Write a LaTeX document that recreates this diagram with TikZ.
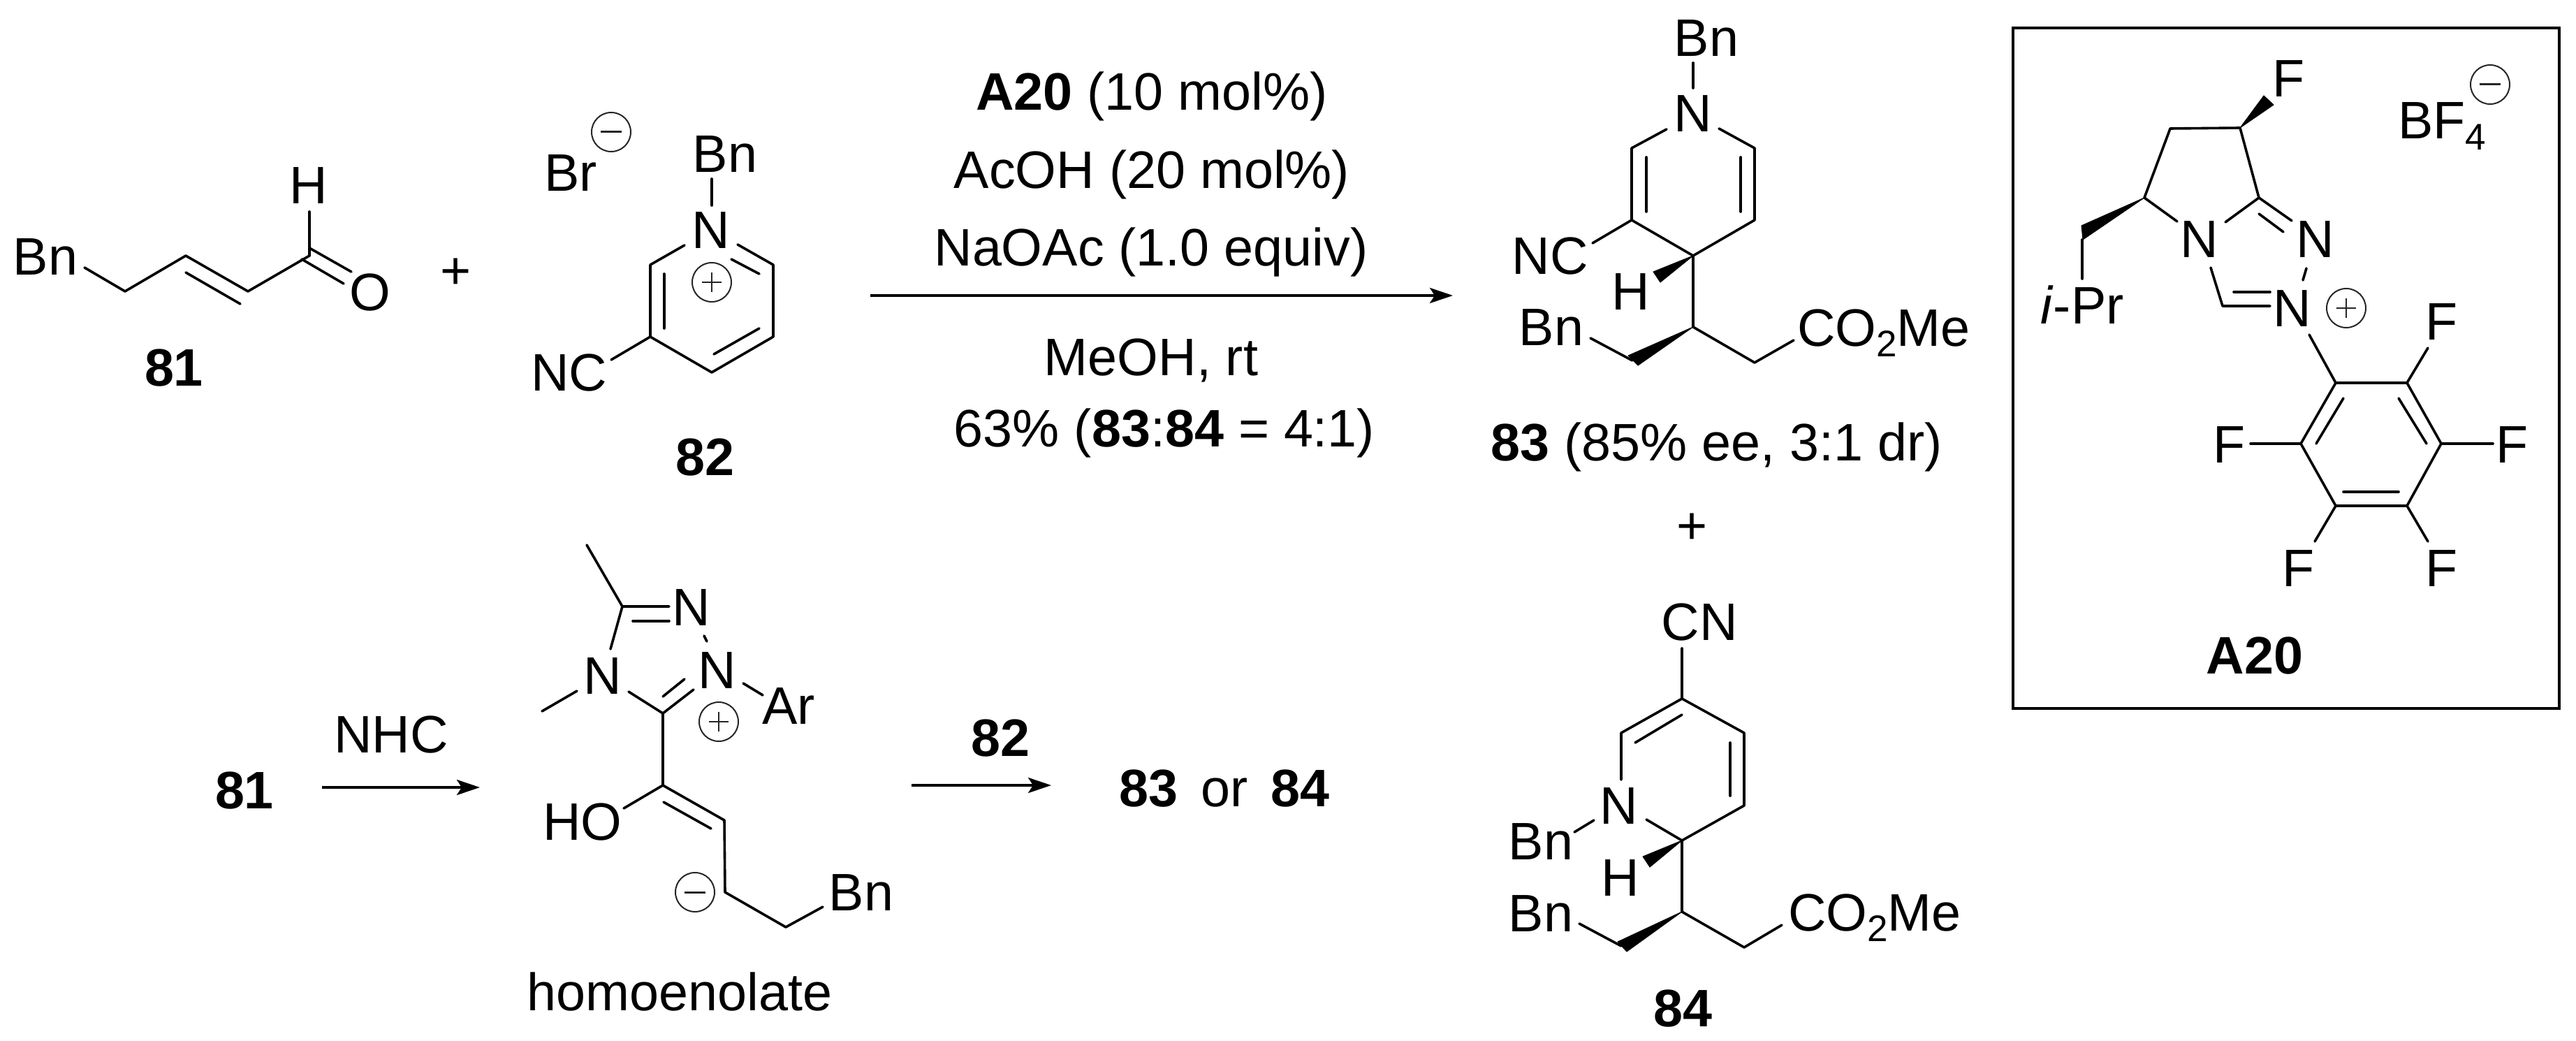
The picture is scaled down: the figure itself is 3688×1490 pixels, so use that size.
\documentclass[tikz,border=0pt]{standalone}
\usepackage{fontspec}
\setmainfont{Liberation Sans}
\usetikzlibrary{arrows.meta}
\newcommand{\chemsub}[1]{\raisebox{-0.2em}{\fontsize{53}{55}\selectfont #1}}
\newcommand{\bnd}[1]{\draw[bond] #1;}
\newcommand{\wdg}[3]{\fill[wedge] #1 -- #2 -- #3 -- cycle;}
\newcommand{\pluscharge}[2]{\draw[charge] (#1,#2) circle[radius=28]; \draw[charge] (#1-14,#2) -- (#1+14,#2) (#1,#2-14) -- (#1,#2+14);}
\newcommand{\minuscharge}[2]{\draw[charge] (#1,#2) circle[radius=28]; \draw[charge,line width=3pt] (#1-15,#2) -- (#1+15,#2);}
\tikzset{
  bond/.style={line width=3.6pt,line cap=round,line join=round,black},
  wedge/.style={fill=black,draw=black,line width=1pt,line join=round},
  charge/.style={line width=2pt,black!85},
  lab/.style={inner sep=0pt,font=\fontsize{75.5}{80}\selectfont,text=black},
  bld/.style={inner sep=0pt,font=\fontsize{75.5}{80}\selectfont\bfseries,text=black},
  rxn/.style={-{Stealth[length=33pt,width=22pt,inset=7pt]},line width=3.4pt,black},
}
\begin{document}
\begin{tikzpicture}[x=1pt,y=-1pt]
\useasboundingbox (0,0) rectangle (3688,1490);
% 81
\node[lab] (bnA) at (65,368) {Bn};
\node[lab] (hA) at (442,266) {H};
\node[lab] (oA) at (530,419) {O};
\bnd{(121,383) -- (179,417) -- (266,366) -- (355,417) -- (443,366)}
\bnd{(443,303) -- (443,366)}
\bnd{(443,355) -- (503,389)}
\bnd{(432,371) -- (492,406)}
\bnd{(266,390) -- (344,435)}
\node[lab] (plusA) at (653,392) {+};
\node[bld] (cA) at (249,527) {81};
% 82
\node[lab] (brB) at (817,248) {Br};
\minuscharge{875}{189}
\node[lab] (bnB) at (1038,221) {Bn};
\node[lab] (nB) at (1018,330) {N};
\node[lab] (ncB) at (815,534) {NC};
\bnd{(1019,256) -- (1019,294)}
\bnd{(980,351) -- (931,379) -- (931,482) -- (1019,533) -- (1107,482) -- (1107,379) -- (1056,350)}
\bnd{(951,392) -- (951,470)}
\bnd{(1047,371) -- (1087,392)}
\bnd{(1022,507) -- (1087,470)}
\bnd{(875,515) -- (931,482)}
\pluscharge{1019}{404}
\node[bld] (cB) at (1009,655) {82};
% main arrow and conditions
\coordinate (arrS) at (1246,423);
\coordinate (arrE) at (2080,423);
\draw[rxn] (arrS) -- (arrE);
\node[lab,anchor=base] (t1) at (1649,158) {\textbf{A20} (10 mol\%)};
\node[lab,anchor=base] (t2) at (1649,269) {AcOH (20 mol\%)};
\node[lab,anchor=base] (t3) at (1648,380) {NaOAc (1.0 equiv)};
\node[lab,anchor=base] (t4) at (1648,537) {MeOH, rt};
\node[lab,anchor=base] (t5) at (1667,639) {63\% (\textbf{83}:\textbf{84} = 4:1)};
% 83
\node[lab] (bnC) at (2443,55) {Bn};
\node[lab] (nC) at (2424,163) {N};
\node[lab] (ncC) at (2219,367) {NC};
\node[lab] (hC) at (2335,418) {H};
\node[lab] (bn2C) at (2221,469) {Bn};
\node[lab,anchor=base west] (esC) at (2573,495) {CO\chemsub{2}Me};
\bnd{(2424,90) -- (2424,126)}
\bnd{(2386,185) -- (2336,212) -- (2336,315) -- (2424,366) -- (2512,315) -- (2512,212) -- (2461,184)}
\bnd{(2357,225) -- (2357,303)}
\bnd{(2492,225) -- (2492,303)}
\bnd{(2280,348) -- (2336,315)}
\wdg{(2424,366)}{(2367,389)}{(2377,404)}
\bnd{(2424,366) -- (2424,468) -- (2512,519) -- (2568,487)}
\wdg{(2424,468)}{(2331,509)}{(2345,523)}
\bnd{(2277,484) -- (2337,516)}
\node[lab,anchor=base] (cC) at (2458,659) {\textbf{83} (85\% ee, 3:1 dr)};
\node[lab] (plusC) at (2423,757) {+};
% 84
\node[lab] (cnD) at (2433,891) {CN};
\node[lab] (nD) at (2318,1154) {N};
\node[lab] (bnD) at (2206,1205) {Bn};
\node[lab] (hD) at (2320,1257) {H};
\node[lab] (bn2D) at (2206,1308) {Bn};
\node[lab,anchor=base west] (esD) at (2560,1332) {CO\chemsub{2}Me};
\bnd{(2408,928) -- (2408,1000)}
\bnd{(2321,1116) -- (2321,1049) -- (2408,1000) -- (2497,1049) -- (2497,1153) -- (2408,1203) -- (2357,1173)}
\bnd{(2341,1063) -- (2408,1023)}
\bnd{(2477,1063) -- (2477,1139)}
\bnd{(2254,1191) -- (2282,1174)}
\wdg{(2408,1203)}{(2352,1226)}{(2362,1241)}
\bnd{(2408,1203) -- (2408,1305) -- (2497,1356) -- (2551,1324)}
\wdg{(2408,1305)}{(2316,1348)}{(2329,1362)}
\bnd{(2261,1322) -- (2321,1354)}
\node[bld] (cD) at (2409,1443) {84};
% A20 box
\draw[line width=4pt,black] (2882,40) rectangle (3664,1014);
\node[lab] (fE) at (3277,113) {F};
\wdg{(3207,183)}{(3241,137)}{(3255,150)}
\node[lab] (nE1) at (3149,343) {N};
\node[lab] (nE2) at (3315,343) {N};
\node[lab] (nE3) at (3282,442) {N};
\bnd{(3117,317) -- (3070,283) -- (3107,184) -- (3207,183) -- (3234,283) -- (3186,318)}
\bnd{(3234,283) -- (3281,316)}
\bnd{(3234,306) -- (3269,332)}
\bnd{(3302,384) -- (3297,401)}
\bnd{(3165,383) -- (3182,438) -- (3250,438)}
\bnd{(3198,418) -- (3250,418)}
\pluscharge{3359}{441}
\bnd{(3306,479) -- (3344,548)}
\bnd{(3344,548) -- (3446,548) -- (3495,635) -- (3446,724) -- (3344,724) -- (3294,635) -- cycle}
\bnd{(3355,570) -- (3316,635)}
\bnd{(3434,570) -- (3474,635)}
\bnd{(3355,704) -- (3434,704)}
\node[lab] (fE1) at (3496,461) {F};
\node[lab] (fE2) at (3597,637) {F};
\node[lab] (fE3) at (3496,814) {F};
\node[lab] (fE4) at (3291,814) {F};
\node[lab] (fE5) at (3192,637) {F};
\bnd{(3446,548) -- (3476,498)}
\bnd{(3495,635) -- (3569,635)}
\bnd{(3446,724) -- (3476,775)}
\bnd{(3344,724) -- (3314,775)}
\bnd{(3294,635) -- (3222,635)}
\wdg{(3070,283)}{(2980,323)}{(2982,343)}
\bnd{(2981,343) -- (2981,399)}
\node[lab] (ipr) at (2981,436) {\textit{i}-Pr};
\node[lab,anchor=base west] (bf4) at (3433,199) {BF\chemsub{4}};
\minuscharge{3565}{121}
\node[bld] (cE) at (3228,939) {A20};
% lower scheme
\node[bld] (cF) at (350,1131) {81};
\coordinate (arr2S) at (461,1127);
\coordinate (arr2E) at (687,1127);
\draw[rxn] (arr2S) -- (arr2E);
\node[lab] (nhc) at (560,1051) {NHC};
% homoenolate
\node[lab] (nG1) at (990,870) {N};
\node[lab] (nG2) at (1027,960) {N};
\node[lab] (nG3) at (863,968) {N};
\node[lab] (ar) at (1129,1011) {Ar};
\node[lab] (ho) at (834,1176) {HO};
\node[lab] (bnG) at (1233,1278) {Bn};
\bnd{(840,780) -- (891,868) -- (958,868)}
\bnd{(906,889) -- (958,889)}
\bnd{(1008,910) -- (1012,918)}
\bnd{(1064,978) -- (1092,995)}
\bnd{(891,868) -- (874,929)}
\bnd{(826,989) -- (776,1018)}
\bnd{(900,990) -- (949,1021) -- (993,987)}
\bnd{(949,997) -- (980,972)}
\pluscharge{1029}{1033}
\bnd{(949,1021) -- (949,1124) -- (1037,1174) -- (1038,1277) -- (1125,1327) -- (1178,1298)}
\bnd{(949,1124) -- (893,1157)}
\bnd{(950,1148) -- (1018,1186)}
\minuscharge{995}{1277}
\node[lab] (homo) at (973,1419) {homoenolate};
\coordinate (arr3S) at (1305,1124);
\coordinate (arr3E) at (1505,1124);
\draw[rxn] (arr3S) -- (arr3E);
\node[bld] (cG) at (1432,1056) {82};
\node[lab] (or) at (1753,1129) {\textbf{83}\hspace{12pt} or\hspace{12pt} \textbf{84}};
\end{tikzpicture}
\end{document}
